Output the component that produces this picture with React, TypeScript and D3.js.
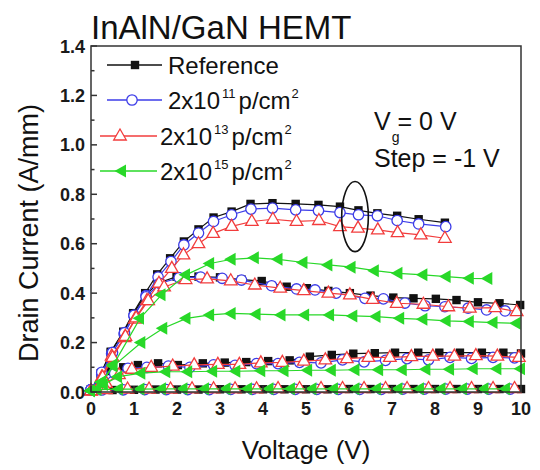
import React from 'react';
import * as d3 from 'd3';

// ---------- data ----------
// Reference sample
const refX0 = [0, 0.23, 0.46, 0.75, 0.98, 1.26, 1.54, 1.84, 2.16, 2.5, 2.85, 3.27, 3.71, 4.22, 4.76, 5.29, 5.79, 6.22, 6.66, 7.12, 7.62, 8.23];
const refY0 = [0.01, 0.076, 0.163, 0.244, 0.319, 0.4, 0.476, 0.541, 0.609, 0.658, 0.706, 0.73, 0.761, 0.764, 0.761, 0.757, 0.75, 0.735, 0.723, 0.713, 0.699, 0.685];
const refX1 = [0, 0.23, 0.46, 0.75, 0.98, 1.26, 1.55, 1.99, 2.5, 3.0, 3.5, 3.97, 4.55, 5.02, 5.52, 6.02, 6.5, 7.03, 7.5, 8.02, 8.5, 9.0, 9.5, 9.98];
const refY1 = [0.01, 0.075, 0.16, 0.24, 0.315, 0.39, 0.44, 0.467, 0.467, 0.464, 0.455, 0.449, 0.426, 0.42, 0.409, 0.4, 0.39, 0.382, 0.379, 0.377, 0.372, 0.363, 0.359, 0.352];
const refX2 = [0, 0.23, 0.46, 0.75, 1.09, 1.56, 2.02, 2.6, 3.11, 3.61, 4.12, 4.62, 5.09, 5.6, 6.1, 6.6, 7.07, 7.61, 8.1, 8.58, 9.09, 9.59, 10.0];
const refY2 = [0.01, 0.05, 0.085, 0.1, 0.109, 0.116, 0.109, 0.116, 0.119, 0.121, 0.125, 0.128, 0.143, 0.15, 0.155, 0.157, 0.159, 0.159, 0.159, 0.159, 0.159, 0.159, 0.156];
const refX3 = [0, 0.5, 1.0, 1.5, 2.0, 2.5, 3.0, 3.5, 4.0, 4.5, 5.0, 5.5, 6.0, 6.5, 7.0, 7.5, 8.0, 8.5, 9.0, 9.5, 10.0];
const refY3 = [0.004, 0.008, 0.009, 0.01, 0.01, 0.01, 0.011, 0.011, 0.011, 0.011, 0.011, 0.011, 0.012, 0.012, 0.012, 0.012, 0.012, 0.012, 0.012, 0.012, 0.012];

// 2x10^11 p/cm^2
const b11X0 = [0, 0.25, 0.48, 0.77, 1.0, 1.28, 1.56, 1.86, 2.16, 2.5, 2.85, 3.27, 3.72, 4.22, 4.76, 5.29, 5.79, 6.22, 6.66, 7.12, 7.62, 8.25];
const b11Y0 = [0.01, 0.07, 0.155, 0.235, 0.31, 0.39, 0.465, 0.528, 0.595, 0.643, 0.69, 0.717, 0.74, 0.744, 0.737, 0.734, 0.726, 0.717, 0.713, 0.694, 0.68, 0.669];
const b11X1 = [0, 0.25, 0.5, 0.78, 1.0, 1.28, 1.6, 2.05, 2.55, 3.05, 3.5, 4.2, 4.78, 5.21, 5.7, 6.37, 6.8, 7.3, 7.77, 8.23, 8.77, 9.2, 9.63];
const b11Y1 = [0.01, 0.08, 0.16, 0.24, 0.31, 0.385, 0.44, 0.462, 0.465, 0.46, 0.453, 0.43, 0.417, 0.413, 0.4, 0.379, 0.377, 0.36, 0.349, 0.345, 0.339, 0.332, 0.328];
const b11X2 = [0, 0.3, 0.55, 0.86, 1.3, 1.8, 2.3, 2.85, 3.35, 3.85, 4.35, 4.85, 5.35, 5.85, 6.35, 6.85, 7.35, 7.85, 8.35, 8.85, 9.35, 9.85];
const b11Y2 = [0.01, 0.04, 0.075, 0.096, 0.1, 0.105, 0.1, 0.11, 0.108, 0.115, 0.115, 0.12, 0.118, 0.13, 0.122, 0.128, 0.135, 0.13, 0.14, 0.136, 0.14, 0.138];
const b11X3 = [0.25, 0.75, 1.25, 1.75, 2.25, 2.75, 3.25, 3.75, 4.25, 4.75, 5.25, 5.75, 6.25, 6.75, 7.25, 7.75, 8.25, 8.75, 9.25, 9.75];
const b11Y3 = [0.008, 0.009, 0.01, 0.01, 0.01, 0.01, 0.011, 0.011, 0.011, 0.011, 0.011, 0.011, 0.011, 0.011, 0.012, 0.012, 0.012, 0.012, 0.012, 0.012];

// 2x10^13 p/cm^2
const r13X0 = [0, 0.25, 0.48, 0.78, 1.02, 1.3, 1.58, 1.88, 2.15, 2.5, 2.84, 3.27, 3.74, 4.23, 4.78, 5.3, 5.79, 6.21, 6.67, 7.13, 7.67, 8.23];
const r13Y0 = [0.005, 0.06, 0.145, 0.22, 0.295, 0.37, 0.44, 0.5, 0.555, 0.6, 0.642, 0.67, 0.69, 0.699, 0.69, 0.694, 0.669, 0.663, 0.656, 0.645, 0.636, 0.622];
const r13X1 = [0, 0.27, 0.5, 0.8, 1.05, 1.33, 1.7, 2.2, 2.7, 3.25, 3.81, 4.4, 4.95, 5.52, 6.02, 6.55, 7.11, 7.73, 8.31, 8.81, 9.4, 9.9];
const r13Y1 = [0.005, 0.06, 0.14, 0.225, 0.3, 0.37, 0.425, 0.455, 0.458, 0.45, 0.433, 0.42, 0.41, 0.4, 0.393, 0.375, 0.359, 0.355, 0.345, 0.339, 0.341, 0.325];
const r13X2 = [0, 0.35, 0.65, 0.95, 1.4, 1.9, 2.4, 2.95, 3.45, 3.95, 4.45, 4.95, 5.45, 5.95, 6.45, 6.95, 7.45, 7.95, 8.45, 8.95, 9.45, 9.95];
const r13Y2 = [0.005, 0.035, 0.07, 0.092, 0.1, 0.105, 0.11, 0.112, 0.112, 0.118, 0.12, 0.125, 0.13, 0.135, 0.14, 0.14, 0.143, 0.145, 0.145, 0.147, 0.145, 0.14];
const r13X3 = [0.35, 0.85, 1.35, 1.85, 2.35, 2.85, 3.35, 3.85, 4.35, 4.85, 5.35, 5.85, 6.35, 6.85, 7.35, 7.85, 8.35, 8.85, 9.35, 9.85];
const r13Y3 = [0.01, 0.012, 0.012, 0.012, 0.013, 0.013, 0.013, 0.013, 0.014, 0.014, 0.014, 0.014, 0.014, 0.014, 0.014, 0.014, 0.014, 0.014, 0.014, 0.014];

// 2x10^15 p/cm^2
const g15X0 = [0, 0.25, 0.52, 1.14, 1.64, 2.21, 2.77, 3.27, 3.81, 4.36, 4.94, 5.52, 6.06, 6.6, 7.15, 7.73, 8.27, 8.81, 9.24];
const g15Y0 = [0.005, 0.04, 0.11, 0.298, 0.393, 0.474, 0.52, 0.537, 0.543, 0.537, 0.524, 0.514, 0.505, 0.491, 0.48, 0.474, 0.467, 0.46, 0.459];
const g15X1 = [0, 0.25, 0.52, 1.17, 1.68, 2.22, 2.77, 3.27, 3.85, 4.43, 4.98, 5.56, 6.1, 6.64, 7.19, 7.73, 8.27, 8.81, 9.36, 9.9];
const g15Y1 = [0.005, 0.04, 0.105, 0.2, 0.258, 0.298, 0.312, 0.318, 0.315, 0.312, 0.312, 0.312, 0.308, 0.305, 0.298, 0.294, 0.288, 0.285, 0.281, 0.278];
const g15X2 = [0, 0.3, 0.63, 1.17, 1.75, 2.26, 2.84, 3.38, 3.96, 4.5, 5.05, 5.6, 6.15, 6.7, 7.25, 7.8, 8.35, 8.9, 9.45, 10.0];
const g15Y2 = [0.005, 0.03, 0.062, 0.076, 0.082, 0.082, 0.084, 0.084, 0.086, 0.086, 0.088, 0.088, 0.09, 0.09, 0.09, 0.092, 0.092, 0.094, 0.094, 0.094];
const g15X3 = [0.15, 0.65, 1.15, 1.65, 2.15, 2.65, 3.15, 3.65, 4.15, 4.65, 5.15, 5.65, 6.15, 6.65, 7.15, 7.65, 8.15, 8.65, 9.15, 9.65];
const g15Y3 = [0.01, 0.012, 0.012, 0.013, 0.013, 0.013, 0.013, 0.013, 0.013, 0.013, 0.013, 0.013, 0.013, 0.013, 0.013, 0.013, 0.013, 0.013, 0.013, 0.013];

const xTicks = [0, 1, 2, 3, 4, 5, 6, 7, 8, 9, 10];
const yTicks = [0, 0.2, 0.4, 0.6, 0.8, 1.0, 1.2, 1.4];
const yTickLabels = ['0.0', '0.2', '0.4', '0.6', '0.8', '1.0', '1.2', '1.4'];
const yMinorTicks = [0.1, 0.3, 0.5, 0.7, 0.9, 1.1, 1.3];

// annotation ellipse (data units): centre x, centre y, radius x, radius y
const ellipseSpec = [6.14, 0.71, 0.31, 0.142];

const FONT = "'Liberation Sans', Arial, Helvetica, sans-serif";
const BLACK = '#111111';
const BLUE = '#3c3ce8';
const RED = '#f23c3c';
const GREEN = '#28d828';

type Kind = 'square' | 'circle' | 'triangle' | 'left';

const series: { name: string; color: string; kind: Kind; curves: [number[], number[]][] }[] = [
  { name: 'ref', color: BLACK, kind: 'square', curves: [[refX0, refY0], [refX1, refY1], [refX2, refY2], [refX3, refY3]] },
  { name: 'b11', color: BLUE, kind: 'circle', curves: [[b11X0, b11Y0], [b11X1, b11Y1], [b11X2, b11Y2], [b11X3, b11Y3]] },
  { name: 'r13', color: RED, kind: 'triangle', curves: [[r13X0, r13Y0], [r13X1, r13Y1], [r13X2, r13Y2], [r13X3, r13Y3]] },
  { name: 'g15', color: GREEN, kind: 'left', curves: [[g15X0, g15Y0], [g15X1, g15Y1], [g15X2, g15Y2], [g15X3, g15Y3]] },
];

function Marker({ kind, color, x, y }: { kind: Kind; color: string; x: number; y: number }) {
  if (kind === 'square') return <rect x={x - 4.2} y={y - 4.2} width={8.4} height={8.4} fill={color} />;
  if (kind === 'circle') return <circle cx={x} cy={y} r={5.2} fill="white" stroke={color} strokeWidth={1.3} />;
  if (kind === 'triangle')
    return <path d={`M${x},${y - 7} L${x + 6.3},${y + 4} L${x - 6.3},${y + 4} Z`} fill="white" stroke={color} strokeWidth={1.3} />;
  return <path d={`M${x - 7.5},${y} L${x + 4},${y - 6.5} L${x + 4},${y + 6.5} Z`} fill={color} />;
}

export default function App() {
  const W = 540, H = 470;
  const x = d3.scaleLinear().domain([0, 10]).range([91, 521]);
  const y = d3.scaleLinear().domain([0, 1.4]).range([392, 46]);
  const line = d3.line<[number, number]>().x((d) => x(d[0])).y((d) => y(d[1]));

  const legend = [
    { kind: 'square' as Kind, color: BLACK, y: 65, x1: 107, x2: 162, mx: 135, tx: 168, label: 'Reference', sup: null as null | string },
    { kind: 'circle' as Kind, color: BLUE, y: 100, x1: 107, x2: 162, mx: 132, tx: 168, label: '2x10', sup: '11' },
    { kind: 'triangle' as Kind, color: RED, y: 136, x1: 100, x2: 157, mx: 120, tx: 160, label: '2x10', sup: '13' },
    { kind: 'left' as Kind, color: GREEN, y: 171, x1: 100, x2: 157, mx: 122, tx: 160, label: '2x10', sup: '15' },
  ];

  const [ecx, ecy, erx, ery] = ellipseSpec;

  return (
    <svg width={W} height={H} style={{ position: 'absolute', left: 0, top: 0, background: 'white' }} fontFamily={FONT}>
      <rect x={0} y={0} width={W} height={H} fill="white" />

      {/* data */}
      {series.map((s) => (
        <g key={s.name}>
          {s.curves.map(([xs, ys], ci) => {
            const pts = xs.map((v, i) => [v, ys[i]] as [number, number]);
            return (
              <g key={ci}>
                <path d={line(pts) || ''} fill="none" stroke={s.color} strokeWidth={1.2} />
                {pts.map((p, i) => (
                  <Marker key={i} kind={s.kind} color={s.color} x={x(p[0])} y={y(p[1])} />
                ))}
              </g>
            );
          })}
        </g>
      ))}

      {/* ellipse annotation */}
      <ellipse cx={x(ecx)} cy={y(ecy)} rx={x(ecx + erx) - x(ecx)} ry={y(ecy - ery) - y(ecy)} fill="none" stroke="#111" strokeWidth={1.6} />

      {/* frame */}
      <rect x={x(0)} y={y(1.4)} width={x(10) - x(0)} height={y(0) - y(1.4)} fill="none" stroke="#333" strokeWidth={1.5} />

      {/* y ticks */}
      {yTicks.map((t, i) => (
        <g key={'yt' + i}>
          <line x1={x(0)} x2={x(0) + 6} y1={y(t)} y2={y(t)} stroke="#333" strokeWidth={1.5} />
          <text x={85} y={y(t) + 6.5} fontSize={18} fontWeight="bold" textAnchor="end" fill="#1a1a1a">{yTickLabels[i]}</text>
        </g>
      ))}
      {yMinorTicks.map((t, i) => (
        <line key={'ym' + i} x1={x(0)} x2={x(0) + 3.5} y1={y(t)} y2={y(t)} stroke="#333" strokeWidth={1.5} />
      ))}
      {/* x ticks */}
      {xTicks.map((t) => (
        <g key={'xt' + t}>
          <line x1={x(t)} x2={x(t)} y1={y(0)} y2={y(0) - 6} stroke="#333" strokeWidth={1.5} />
          <text x={x(t)} y={415} fontSize={18} fontWeight="bold" textAnchor="middle" fill="#1a1a1a">{t}</text>
        </g>
      ))}

      {/* axis titles */}
      <text x={306} y={459} fontSize={26} textAnchor="middle" fill="#111">Voltage (V)</text>
      <text transform="translate(38,233) rotate(-90)" fontSize={27} textAnchor="middle" fill="#111">Drain Current (A/mm)</text>

      {/* title */}
      <text x={91} y={39} fontSize={33} fill="#111">InAlN/GaN HEMT</text>

      {/* legend */}
      {legend.map((l, i) => (
        <g key={'lg' + i}>
          <line x1={l.x1} x2={l.x2} y1={l.y} y2={l.y} stroke={l.color} strokeWidth={1.3} />
          <Marker kind={l.kind} color={l.color} x={l.mx} y={l.y} />
          <text x={l.tx} y={l.y + 8.5} fontSize={24} fill="#111">
            {l.label}
            {l.sup && (
              <>
                <tspan fontSize={13} dx={2} dy={-11}>{l.sup}</tspan>
                <tspan fontSize={24} dx={3} dy={11}>p/cm</tspan>
                <tspan fontSize={13} dx={1} dy={-11}>2</tspan>
              </>
            )}
          </text>
        </g>
      ))}

      {/* condition annotation */}
      <text x={374} y={130} fontSize={25} fill="#111">
        V<tspan fontSize={14} dx={1} dy={12}>g</tspan>
        <tspan dx={-2} dy={-12}>= 0 V</tspan>
      </text>
      <text x={374} y={167} fontSize={25} fill="#111">Step = -1 V</text>
    </svg>
  );
}
